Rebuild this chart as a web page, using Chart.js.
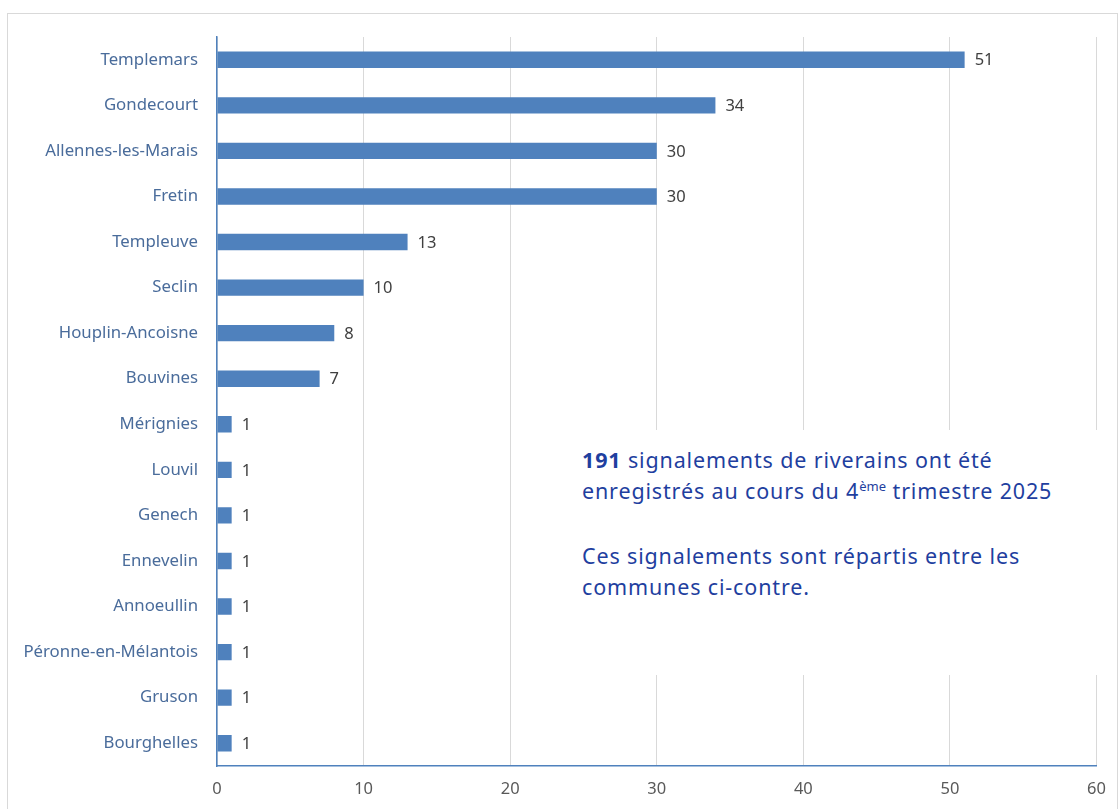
<!DOCTYPE html>
<html>
<head>
<meta charset="utf-8">
<script src="https://cdn.jsdelivr.net/npm/chart.js@4.4.1/dist/chart.umd.min.js"></script>
<style>
  body { margin: 0; background: #fff; width: 1119px; height: 809px; overflow: hidden; position: relative; }
  #frame { position: absolute; left: 7px; top: 13px; width: 1109px; height: 820px; border: 1px solid #d9d9d9; }
  #wrap { position: absolute; left: 0; top: 0; width: 1119px; height: 809px; }
  #note {
    position: absolute; left: 565px; top: 430px; width: 532px; height: 245px;
    background: #fff; color: #1f3f9f; font-family: "Noto Sans", sans-serif;
    font-size: 21.5px; letter-spacing: 0.85px; line-height: 31px; padding: 14px 0 0 17px; box-sizing: border-box;
  }
  #note p { margin: 0 0 34px 0; }
  #note sup { font-size: 13px; line-height: 0; letter-spacing: 0; }
</style>
</head>
<body>
<div id="frame"></div>
<div id="wrap"><canvas id="chart" width="1119" height="809"></canvas></div>
<div id="note">
  <p><b>191</b> signalements de riverains ont été<br>enregistrés au cours du 4<sup>ème</sup> trimestre 2025</p>
  <p>Ces signalements sont répartis entre les<br>communes ci-contre.</p>
</div>
<script>
// communes et nombre de signalements (4e trimestre 2025)
const communes = ['Templemars', 'Gondecourt', 'Allennes-les-Marais', 'Fretin', 'Templeuve', 'Seclin',
  'Houplin-Ancoisne', 'Bouvines', 'Mérignies', 'Louvil', 'Genech', 'Ennevelin', 'Annoeullin',
  'Péronne-en-Mélantois', 'Gruson', 'Bourghelles'];
const signalements = [51, 34, 30, 30, 13, 10, 8, 7, 1, 1, 1, 1, 1, 1, 1, 1];
const xTicks = [0, 10, 20, 30, 40, 50, 60];

// draw the value next to each bar
const valueLabels = {
  id: 'valueLabels',
  afterDatasetsDraw(chart) {
    const ctx = chart.ctx;
    const meta = chart.getDatasetMeta(0);
    ctx.save();
    ctx.font = '16.5px "Noto Sans", sans-serif';
    ctx.fillStyle = '#404040';
    ctx.textBaseline = 'middle';
    meta.data.forEach((bar, i) => {
      ctx.fillText(String(signalements[i]), bar.x + 10, bar.y + 1);
    });
    ctx.restore();
  }
};

new Chart(document.getElementById('chart'), {
  type: 'bar',
  data: {
    labels: communes,
    datasets: [{
      data: signalements,
      backgroundColor: '#4f81bd',
      barPercentage: 0.36,
      categoryPercentage: 1
    }]
  },
  options: {
    indexAxis: 'y',
    responsive: false,
    animation: false,
    layout: { padding: { left: 0, top: 37, right: 21, bottom: 0 } },
    plugins: { legend: { display: false }, tooltip: { enabled: false } },
    scales: {
      x: {
        min: 0,
        max: 60,
        afterFit(scale) { scale.height = 43; },
        afterBuildTicks(scale) { scale.ticks = xTicks.map(v => ({ value: v })); },
        grid: { color: '#d9d9d9', drawTicks: false },
        border: { color: '#4f81bd', width: 1.5 },
        ticks: { color: '#595959', padding: 13, font: { family: 'Noto Sans', size: 16.5 } }
      },
      y: {
        afterFit(scale) { scale.width = 217; },
        grid: { display: false },
        border: { color: '#4f81bd', width: 1.5 },
        ticks: { color: '#4a6c9b', padding: 11, font: { family: 'Noto Sans', size: 16.8 } }
      }
    }
  },
  plugins: [valueLabels]
});
</script>
</body>
</html>
